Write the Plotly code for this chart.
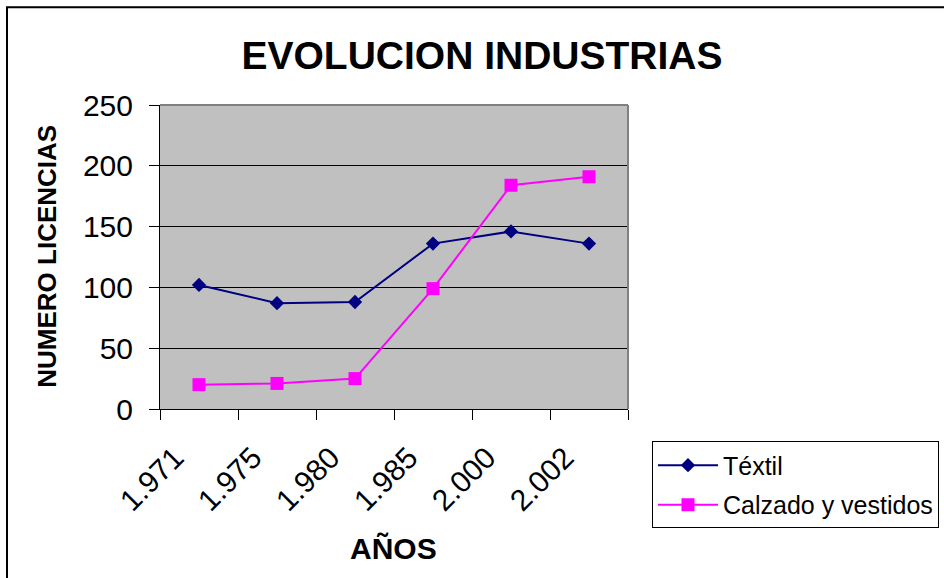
import plotly.graph_objects as go

years = ["1.971", "1.975", "1.980", "1.985", "2.000", "2.002"]
textil = [102, 87, 88, 136, 146, 136]
calzado = [20, 21, 25, 99, 184, 191]

FONT = "Liberation Sans, Arial, sans-serif"

# plot area in pixels: x 160..628, y 105..409.5
L, R, T, B = 160, 944 - 628, 105, 578 - 409.5
W = 628 - L
H = 409.5 - T


def px_x(p):
    return (p - L) / W


def px_y(p):
    return (409.5 - p) / H


fig = go.Figure()
fig.add_trace(go.Scatter(
    x=years, y=textil, name="Téxtil", mode="lines+markers",
    line=dict(color="#000080", width=2),
    marker=dict(symbol="diamond", size=11, color="#000080"),
    legendgroup="a"))
fig.add_trace(go.Scatter(
    x=years, y=calzado, name="Calzado y vestidos", mode="lines+markers",
    line=dict(color="#FF00FF", width=2),
    marker=dict(symbol="square", size=13, color="#FF00FF"),
    legendgroup="b"))

fig.update_layout(
    width=944, height=578,
    margin=dict(l=L, r=R, t=T, b=B, autoexpand=False),
    paper_bgcolor="white",
    plot_bgcolor="#C0C0C0",
    font=dict(family=FONT, color="black"),
    title=dict(text="<b>EVOLUCION INDUSTRIAS</b>", font=dict(size=39),
               xref="paper", x=px_x(482), xanchor="center",
               yref="container", y=1 - 55 / 578, yanchor="middle"),
    legend=dict(x=px_x(652), xanchor="left", y=px_y(442), yanchor="top",
                bordercolor="black", borderwidth=1, bgcolor="white",
                font=dict(size=25), itemwidth=60, tracegroupgap=4),
    xaxis=dict(type="category", range=[-0.5, 5.5], tickson="boundaries",
               ticks="outside", ticklen=10, tickcolor="black",
               showline=True, linecolor="black", linewidth=1,
               showgrid=False, tickangle=-45, tickfont=dict(size=30),
               ticklabelshift=-24, ticklabelstandoff=18),
    yaxis=dict(range=[0, 250], dtick=50, ticks="outside", ticklen=10,
               tickcolor="black", showline=True, linecolor="black",
               linewidth=1, showgrid=True, gridcolor="black", gridwidth=1,
               zeroline=False, tickfont=dict(size=30), ticklabelstandoff=10),
    annotations=[
        dict(text="<b>AÑOS</b>", xref="paper", yref="paper",
             x=px_x(393), y=px_y(549), showarrow=False,
             font=dict(size=30), xanchor="center", yanchor="middle"),
        dict(text="<b>NUMERO LICENCIAS</b>", xref="paper", yref="paper",
             x=px_x(47), y=px_y(257), showarrow=False, textangle=-90,
             font=dict(size=26), xanchor="center", yanchor="middle"),
    ],
    shapes=[
        dict(type="line", xref="paper", yref="paper", x0=0, x1=1, y0=1, y1=1,
             line=dict(color="#808080", width=2)),
        dict(type="line", xref="paper", yref="paper", x0=1, x1=1, y0=0, y1=1,
             line=dict(color="#808080", width=2)),
        dict(type="rect", xref="paper", yref="paper",
             x0=px_x(7), x1=px_x(1000), y0=px_y(620), y1=px_y(7),
             line=dict(color="black", width=2)),
    ],
)

# the page body has a default 8px margin; remove it so the figure sits at 0,0
fig.write_html("out.html", config={"displayModeBar": False},
               post_script="document.body.style.margin='0px';")
